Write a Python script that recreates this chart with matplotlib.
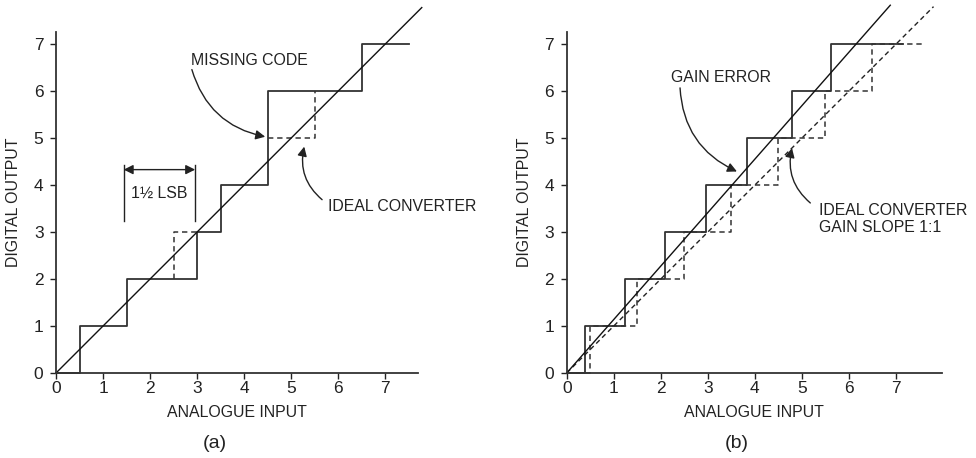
import matplotlib
matplotlib.use("Agg")
import matplotlib.pyplot as plt
import numpy as np

plt.rcParams['font.family'] = ['Liberation Sans', 'DejaVu Sans']

# ---- data ----
ticks = [0, 1, 2, 3, 4, 5, 6, 7]

# panel (a): actual converter with missing code
a_step_x = [0, 0.5, 0.5, 1.5, 1.5, 3.0, 3.0, 3.5, 3.5, 4.5, 4.5, 6.5, 6.5, 7.5]
a_step_y = [0, 0, 1, 1, 2, 2, 3, 3, 4, 4, 6, 6, 7, 7]
a_dash1_x = [2.5, 2.5, 3.0]
a_dash1_y = [2, 3, 3]
a_dash2_x = [4.5, 5.5, 5.5]
a_dash2_y = [5, 5, 6]
a_diag_x = [0, 7.78]
a_diag_y = [0, 7.78]

# panel (b): gain error
b_trans = [0.39, 1.25, 2.10, 2.96, 3.84, 4.80, 5.62]
b_end = 7.15
b_ideal_trans = [0.5, 1.5, 2.5, 3.5, 4.5, 5.5, 6.5]
b_ideal_end = 7.55
b_diag_x = [0, 6.88]
b_diag_y = [0, 7.83]
b_ideal_diag_x = [0, 7.8]
b_ideal_diag_y = [0, 7.8]


def staircase(trans, end):
    xs, ys = [0], [0]
    for k, t in enumerate(trans):
        xs += [t, t]
        ys += [k, k + 1]
    xs.append(end)
    ys.append(len(trans))
    return xs, ys


W, H = 976, 458
fig = plt.figure(figsize=(W / 100, H / 100), dpi=100)

lw_step = 1.3
lw_diag = 1.0
dash = (0, (3.5, 2.5))
FS = 11.4
TXT = '#222222'


def style(ax, xmax):
    ax.set_xlim(0, xmax)
    ax.set_ylim(0, 7.26)
    for s in ['top', 'right']:
        ax.spines[s].set_visible(False)
    for s in ['left', 'bottom']:
        ax.spines[s].set_linewidth(1.3)
        ax.spines[s].set_color('#333333')
    ax.set_xticks(ticks)
    ax.set_yticks(ticks)
    ax.tick_params(direction='out', length=4, width=1.0, labelsize=12.5,
                   colors=TXT)
    ax.tick_params(axis='x', pad=2)
    ax.tick_params(axis='y', pad=5)
    ax.set_xlabel('ANALOGUE INPUT', fontsize=FS, labelpad=6, color=TXT)
    ax.set_ylabel('DIGITAL OUTPUT', fontsize=FS, labelpad=9, color=TXT)


# ---- panel (a) ----
axa = fig.add_axes([56 / W, 85 / H, 362 / W, 341 / H])
style(axa, 7.70)
axa.plot(a_step_x, a_step_y, color='#333333', lw=lw_step, clip_on=False)
axa.plot(a_dash1_x, a_dash1_y, color='#333333', lw=1.1, ls=dash, clip_on=False)
axa.plot(a_dash2_x, a_dash2_y, color='#333333', lw=1.1, ls=dash, clip_on=False)
axa.plot(a_diag_x, a_diag_y, color='#111111', lw=lw_diag, clip_on=False)

# 1 1/2 LSB marker
axa.plot([1.44, 1.44], [3.23, 4.43], color=TXT, lw=1.0)
axa.plot([2.96, 2.96], [3.23, 4.43], color=TXT, lw=1.0)
axa.annotate('', xy=(1.44, 4.33), xytext=(2.96, 4.33),
             arrowprops=dict(arrowstyle='<|-|>', color=TXT, lw=1.0,
                             mutation_scale=14, shrinkA=0, shrinkB=0))
axa.text(2.2, 3.83, '1½ LSB', fontsize=FS, ha='center', va='center', color=TXT)

axa.text(2.87, 6.65, 'MISSING CODE', fontsize=FS, ha='left', va='center', color=TXT)
axa.annotate('', xy=(4.45, 5.03), xytext=(2.89, 6.46),
             arrowprops=dict(arrowstyle='-|>', color=TXT, lw=1.0,
                             mutation_scale=14, shrinkA=0, shrinkB=0,
                             connectionstyle='arc3,rad=0.3'))
axa.text(5.79, 3.54, 'IDEAL CONVERTER', fontsize=FS, ha='left', va='center', color=TXT)
axa.annotate('', xy=(5.28, 4.82), xytext=(5.66, 3.69),
             arrowprops=dict(arrowstyle='-|>', color=TXT, lw=1.0,
                             mutation_scale=14, shrinkA=0, shrinkB=0,
                             connectionstyle='arc3,rad=-0.3'))
fig.text(215 / W, 1 - 443 / H, '(a)', fontsize=14, ha='center', va='center', color=TXT)

# ---- panel (b) ----
axb = fig.add_axes([566.7 / W, 85 / H, 375.3 / W, 341 / H])
style(axb, 7.98)
sx, sy = staircase(b_trans, b_end)
ix, iy = staircase(b_ideal_trans, b_ideal_end)
axb.plot(ix, iy, color='#333333', lw=1.1, ls=dash, clip_on=False)
axb.plot(sx, sy, color='#333333', lw=lw_step, clip_on=False)
axb.plot(b_ideal_diag_x, b_ideal_diag_y, color=TXT, lw=1.0, ls=dash, clip_on=False)
axb.plot(b_diag_x, b_diag_y, color='#111111', lw=lw_diag, clip_on=False)

axb.text(2.21, 6.30, 'GAIN ERROR', fontsize=FS, ha='left', va='center', color=TXT)
axb.annotate('', xy=(3.62, 4.29), xytext=(2.41, 6.07),
             arrowprops=dict(arrowstyle='-|>', color=TXT, lw=1.0,
                             mutation_scale=14, shrinkA=0, shrinkB=0,
                             connectionstyle='arc3,rad=0.3'))
axb.text(5.37, 3.28, 'IDEAL CONVERTER\nGAIN SLOPE 1:1', fontsize=FS, ha='left',
         va='center', color=TXT, linespacing=1.1)
axb.annotate('', xy=(4.79, 4.79), xytext=(5.18, 3.62),
             arrowprops=dict(arrowstyle='-|>', color=TXT, lw=1.0,
                             mutation_scale=14, shrinkA=0, shrinkB=0,
                             connectionstyle='arc3,rad=-0.3'))
fig.text(736.7 / W, 1 - 443 / H, '(b)', fontsize=14, ha='center', va='center', color=TXT)

fig.savefig('out.png', dpi=100)
